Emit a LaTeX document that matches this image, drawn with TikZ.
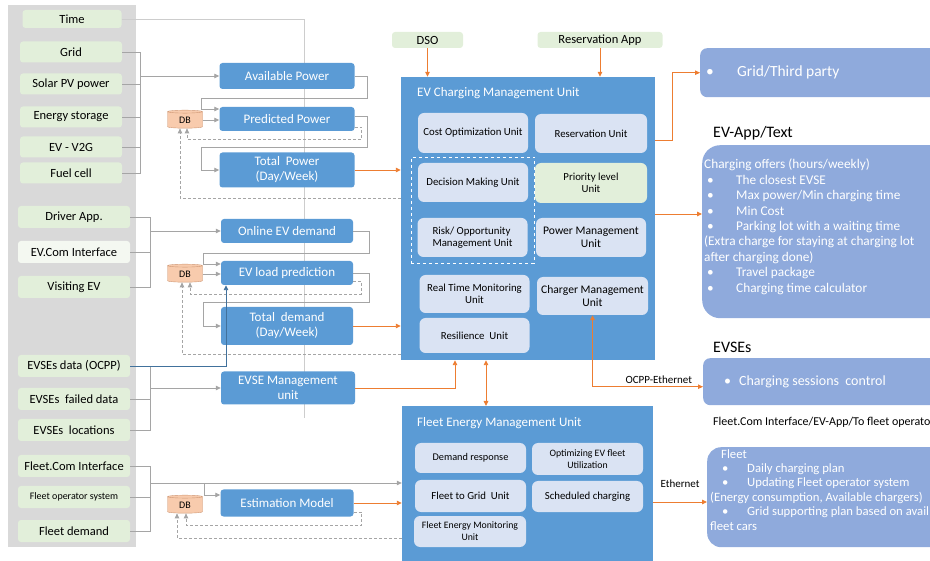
\documentclass[tikz,border=0pt]{standalone}
\usepackage{fontspec}
\setmainfont{Carlito}
\usetikzlibrary{arrows.meta,fit,shapes.geometric}
\definecolor{panelgray}{RGB}{217,217,217}
\definecolor{ingreen}{RGB}{226,239,218}
\definecolor{inpale}{RGB}{244,248,241}
\definecolor{modblue}{RGB}{91,155,213}
\definecolor{subblue}{RGB}{218,227,243}
\definecolor{outblue}{RGB}{143,170,220}
\definecolor{dbfill}{RGB}{248,203,173}
\definecolor{dbline}{RGB}{205,150,115}
\definecolor{wireorange}{RGB}{237,125,49}
\definecolor{wiregray}{RGB}{165,165,165}
\definecolor{wireblue}{RGB}{65,113,156}
\newcommand{\fsz}[2]{\fontsize{#1}{#2}\selectfont}
\newcommand{\listdot}{\makebox[32pt][l]{\hspace*{3pt}\textbullet}}
\newcommand{\fleetdot}{\makebox[37pt][l]{\hspace*{12pt}\textbullet}}

\tikzset{
  inbox/.style={fill=ingreen, rounded corners=3pt, minimum width=112pt, minimum height=22pt, inner sep=0pt, font=\fsz{12.5}{14}},
  inwhite/.style={inbox, fill=inpale},
  insmall/.style={inbox, font=\fsz{10}{12}},
  modbox/.style={fill=modblue, rounded corners=3pt, text=white, inner sep=0pt, align=center, font=\fsz{13}{15}},
  unitbox/.style={fill=modblue, inner sep=0pt},
  unittitle/.style={text=white, inner sep=0pt, font=\fsz{13}{15}},
  subbox/.style={fill=subblue, rounded corners=6pt, inner sep=0pt, align=center, minimum width=110pt, font=\fsz{10.8}{12.5}},
  outbox/.style={fill=outblue, minimum width=260pt, inner sep=0pt, anchor=north west},
  outtext/.style={text=white, inner sep=0pt, align=left, anchor=north west},
  outlabel/.style={inner sep=0pt, anchor=west, font=\fsz{16}{18}},
  dbstore/.style={cylinder, shape border rotate=90, aspect=0.25, draw=dbline, fill=dbfill, minimum width=35pt, minimum height=18pt, inner sep=0pt, font=\fsz{10}{12}},
  wire/.style={draw=wiregray, line width=0.8pt},
  garr/.style={wire, -{Triangle[length=5pt,width=4.5pt]}},
  darr/.style={garr, dash pattern=on 3pt off 2pt},
  oarr/.style={draw=wireorange, line width=0.9pt, -{Triangle[length=5pt,width=4.5pt]}},
  oboth/.style={oarr, {Triangle[length=5pt,width=4.5pt]}-{Triangle[length=5pt,width=4.5pt]}},
  barr/.style={draw=wireblue, line width=0.9pt, -{Triangle[length=5pt,width=4.5pt]}},
  wirelabel/.style={inner sep=0pt, font=\fsz{11}{13}},
}

\begin{document}
\begin{tikzpicture}[x=1pt,y=-1pt]
\useasboundingbox (0,0) rectangle (930,561);
\clip (0,0) rectangle (930,561);

% input column
\fill[panelgray] (8,5) rectangle (136,547);
\node[inbox, minimum width=99pt, minimum height=18pt] (time) at (72,19) {Time};
\foreach \n/\y/\t in {grid/52/Grid, pv/84/Solar PV power, ess/117/Energy storage, vtog/147/EV - V2G, fcell/173/Fuel cell}
  \node[inbox, minimum width=102pt, minimum height=21pt] (\n) at (71,\y) {\t};
\foreach \n/\y/\s/\t in {drv/217/inbox/Driver App., evcom/252/inwhite/EV.Com Interface, visit/287/inbox/Visiting EV,
  ocpp/366/inbox/EVSEs data (OCPP), fail/399/inbox/EVSEs\ \ failed data, loc/430/inbox/EVSEs\ \ locations,
  fcom/466/inbox/Fleet.Com Interface, fops/497/insmall/Fleet operator system, fdem/531/inbox/Fleet demand}
  \node[\s] (\n) at (74,\y) {\t};

% time feed runs behind the modules
\coordinate (tend) at (304,418);
\draw[wire, draw=wiregray!55] (time.east) -| (tend);

% prediction modules
\node[modbox, minimum width=135pt, minimum height=26pt] (avail) at (287,76) {Available Power};
\node[modbox, minimum width=135pt, minimum height=24pt] (pred) at (287,119) {Predicted Power};
\node[modbox, minimum width=135pt, minimum height=35pt] (totp) at (287,170) {Total\ \ Power\\(Day/Week)};
\node[modbox, minimum width=132pt, minimum height=24pt] (online) at (287,231) {Online EV demand};
\node[modbox, minimum width=132pt, minimum height=24pt] (load) at (287,273) {EV load prediction};
\node[modbox, minimum width=132pt, minimum height=38pt] (totd) at (287,326) {Total\ \ demand\\(Day/Week)};
\node[modbox, minimum width=134pt, minimum height=33pt] (evsem) at (288,388) {EVSE Management\\unit};
\node[modbox, minimum width=133pt, minimum height=27pt] (estim) at (287,503) {Estimation Model};
\node[dbstore] (db1) at (185,120) {DB};
\node[dbstore] (db2) at (185,274) {DB};
\node[dbstore] (db3) at (185,505) {DB};

% EV charging management unit
\node[unitbox, minimum width=254pt, minimum height=283pt] (ev) at (528,218.5) {};
\node[unittitle, anchor=west] (evtitle) at (417,93) {EV Charging Management Unit};
\node[subbox, minimum height=40pt] (cost) at (473,133) {Cost Optimization Unit};
\node[subbox, minimum width=112pt, minimum height=39pt] (resv) at (591,133.5) {Reservation Unit};
\node[subbox, minimum height=39pt] (dec) at (473,182.5) {Decision Making Unit};
\node[subbox, fill=ingreen, minimum width=112pt, minimum height=40pt] (prio) at (591,183) {Priority level\\Unit};
\node[subbox, minimum height=39pt, align=left] (risk) at (472.5,237.5) {Risk/ Opportunity\\Management Unit};
\node[subbox, minimum height=39pt, font=\fsz{11.6}{13}] (pwr) at (591,237.5) {Power Management\\Unit};
\node[subbox, minimum height=38pt] (rtm) at (474.5,294) {Real Time Monitoring\\Unit};
\node[subbox, minimum width=111pt, minimum height=38pt, font=\fsz{11.6}{13}] (chg) at (592.5,296) {Charger Management\\Unit};
\node[subbox, minimum height=35pt] (resil) at (474.5,335.5) {Resilience\ \ Unit};
\node[draw=white, dashed, fit=(dec)(risk), inner sep=6pt] (dmgroup) {};

% fleet energy management unit
\node[unitbox, minimum width=251pt, minimum height=180pt, anchor=north] (fleet) at (527.5,406) {};
\node[unittitle, anchor=west] (fleettitle) at (417,423) {Fleet Energy Management Unit};
\node[subbox, minimum width=111pt, minimum height=30pt, font=\fsz{10.3}{12}] (dr) at (470.5,458) {Demand response};
\node[subbox, minimum width=111pt, minimum height=32pt, font=\fsz{9.8}{12}] (optu) at (587.5,459) {Optimizing EV fleet\\Utilization};
\node[subbox, minimum width=111pt, minimum height=32pt] (f2g) at (470.5,496) {Fleet to Grid\ \ Unit};
\node[subbox, minimum width=111pt, minimum height=31pt] (sched) at (587.5,496.5) {Scheduled charging};
\node[subbox, minimum width=112pt, minimum height=31pt, font=\fsz{9.8}{12}] (fem) at (470,531.5) {Fleet Energy Monitoring\\Unit};

% external inputs on top
\node[inbox, minimum width=71pt, minimum height=16pt] (dso) at (427.5,40) {DSO};
\node[inbox, minimum width=125pt, minimum height=16pt] (resapp) at (600,40) {Reservation App};

% outputs
\node[outbox, minimum height=49pt, rounded corners=7pt] (third) at (700,48) {};
\node[outtext, anchor=west, font=\fsz{15.5}{18}] (thirdtxt) at (706,72.5) {\makebox[31pt][l]{\textbullet}Grid/Third party};
\node[outlabel] (evapplbl) at (713,133) {EV-App/Text};
\node[outbox, minimum height=173pt, rounded corners=18pt] (evapp) at (702,145) {};
\node[outtext, font=\fsz{13.3}{15.4}] (evapptxt) at (704,159) {Charging offers (hours/weekly)\\
  \listdot The closest EVSE\\
  \listdot Max power/Min charging time\\
  \listdot Min Cost\\
  \listdot Parking lot with a waiting time\\
  (Extra charge for staying at charging lot\\
  after charging done)\\
  \listdot Travel package\\
  \listdot Charging time calculator};
\node[outlabel] (evseslbl) at (713,347) {EVSEs};
\node[outbox, minimum height=47pt, rounded corners=7pt] (evses) at (703,358) {};
\node[outtext, anchor=west, font=\fsz{14}{16}] (evsestxt) at (724,381.5) {\textbullet\hspace{8pt}Charging sessions\ \ control};
\node[outlabel, font=\fsz{12}{14}] (fleetlbl) at (713,422) {Fleet.Com Interface/EV-App/To fleet operators};
\node[outbox, minimum height=100pt, rounded corners=14pt] (fleetbox) at (707,447) {};
\node[outtext, font=\fsz{12.7}{14.4}] (fleettxt) at (710,449) {\hspace*{11pt}Fleet\\
  \fleetdot Daily charging plan\\
  \fleetdot Updating Fleet operator system\\
  (Energy consumption, Available chargers)\\
  \fleetdot Grid supporting plan based on avail b\\
  fleet cars};

% power supply chain
\coordinate (pbus) at (140,76);
\foreach \n in {grid,pv,ess,vtog,fcell} \draw[wire] (\n.east) -| (pbus);
\draw[garr] (pbus) -- (avail.west);
\draw[garr] (avail.east) -| ++(13,22) -| ++(-166,11) -- ([yshift=10pt]pred.west);
\draw[garr] (db1.east) -- (db1.east -| pred.west);
\draw[garr] ([yshift=3pt]pred.east) -| ++(13,31) -| ++(-166,23) -- (totp.west);
\draw[darr] ([yshift=-8pt]pred.east) -| ++(7,12) -| ([xshift=2pt]db1.south);
\draw[darr] (ev.west |- 0,198) -| ([xshift=-5pt]db1.south);
\draw[oarr] (totp.east) -- (totp.east -| ev.west);

% EV demand chain
\coordinate (dbus) at (150,231);
\foreach \n in {drv,evcom,visit} \draw[wire] (\n.east) -| (dbus);
\draw[garr] (dbus) -- (online.west);
\draw[garr] (online.east) -| ++(16,22) -| ++(-166,11) -- ([yshift=9pt]load.west);
\draw[garr] (db2.east) -- (db2.east -| load.west);
\draw[garr] (load.east) -| ++(16,29) -| ++(-166,24) -- (totd.west);
\draw[darr] ([yshift=-8pt]load.east) -| ++(8,13) -| ([xshift=5pt]db2.south);
\draw[darr] (ev.west |- 0,354) -| ([xshift=-3pt]db2.south);
\draw[oarr] (totd.east) -- (totd.east -| ev.west);

% EVSE data
\coordinate (ebus) at (150,388);
\foreach \n in {ocpp,fail,loc} \draw[wire] (\n.east) -| (ebus);
\draw[garr] (ebus) -- (evsem.west);
\draw[barr] (ocpp.east) -| ([xshift=-61pt]load.south);
\draw[oarr] (evsem.east) -| ([xshift=-73pt]ev.south);
\draw[oboth] ([xshift=-42pt]ev.south) -- ([xshift=-42pt]ev.south |- fleet.north);

% fleet chain
\coordinate (fbus) at (150,483);
\coordinate (fsplit) at (204,483);
\foreach \n in {fcom,fops,fdem} \draw[wire] (\n.east) -| (fbus);
\draw[garr] (fbus) -- (fbus -| fleet.west);
\draw[garr] (fsplit) |- ([yshift=8pt]estim.west);
\draw[oarr] (estim.east) -- (estim.east -| fleet.west);
\draw[darr] ([yshift=-9pt]estim.east) -| ++(8,13) -| ([xshift=1pt]db3.south);
\draw[darr] (fleet.west |- 0,538) -| ([xshift=-8pt]db3.south);

% top inputs and outputs
\draw[oarr] (dso.south) -- (dso.south |- ev.north);
\draw[oarr] (resapp.south) -- (resapp.south |- ev.north);
\draw[oarr] (ev.east |- 0,140) -- ++(17,0) |- (third.west);
\draw[oarr] (ev.east |- 0,214) -- (evapp.west |- 0,214);
\draw[oboth] (chg.south) |- ([yshift=-5pt]evses.west) node[wirelabel, pos=0.8, above=3pt] {OCPP-Ethernet};
\draw[oarr] (fleet.east |- 0,502) -- (fleetbox.west |- 0,502) node[wirelabel, midway, above=14pt] {Ethernet};
\end{tikzpicture}
\end{document}
